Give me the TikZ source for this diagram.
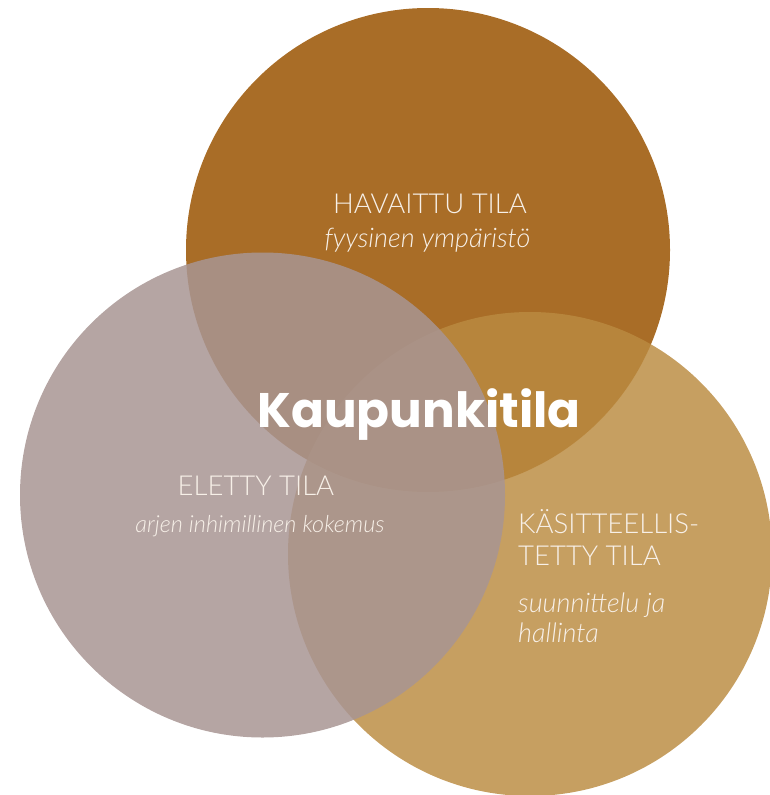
\documentclass[tikz,border=0pt]{standalone}
\usepackage{fontspec}
\setmainfont{Lato}
\IfFontExistsTF{Lato Light}{\newfontfamily\lightfont{Lato Light}}{\newfontfamily\lightfont{Lato}}
\newfontfamily\titlefont{Poppins}
\definecolor{havaittu}{RGB}{169,109,39}
\definecolor{kasite}{RGB}{187,139,65}
\definecolor{eletty}{RGB}{168,149,147}
\definecolor{labeltext}{RGB}{247,240,232}
\tikzset{
  venn/.style={draw=none},
  caps/.style={text=labeltext, font=\lightfont\fontsize{27.5}{32}\selectfont, inner sep=0pt},
  sub/.style={text=labeltext, font=\lightfont\itshape\fontsize{27}{32}\selectfont, inner sep=0pt},
  subsmall/.style={text=labeltext, font=\lightfont\itshape\fontsize{23.5}{28}\selectfont, inner sep=0pt},
}
\begin{document}
\begin{tikzpicture}[x=1pt,y=-1pt]
\useasboundingbox (0,0) rectangle (769,795);
% the three spaces
\fill[havaittu] (428,250) circle[radius=242pt];
\fill[kasite, fill opacity=0.83] (530,554) circle[radius=242pt];
\fill[eletty, fill opacity=0.85] (262.5,495) circle[radius=242.5pt];
% labels
\node[caps, anchor=base] (hav) at (430,213) {HAVAITTU TILA};
\node[sub, anchor=base] (havsub) at (427.5,247) {fyysinen ympäristö};
\node[caps, anchor=base] (ele) at (256,495) {ELETTY TILA};
\node[subsmall, anchor=base] (elesub) at (260,532) {arjen inhimillinen kokemus};
\node[caps, anchor=base west] (kas1) at (518,533) {KÄSITTEELLIS-};
\node[caps, anchor=base west] (kas2) at (518,565) {TETTY TILA};
\node[sub, anchor=base west] (kassub1) at (518,612) {suunnittelu ja};
\node[sub, anchor=base west] (kassub2) at (518,642) {hallinta};
\node[text=white, font=\titlefont\bfseries\fontsize{48.5}{58}\selectfont, inner sep=0pt, anchor=base] (title) at (419,427) {Kaupunkitila};
\end{tikzpicture}
\end{document}
